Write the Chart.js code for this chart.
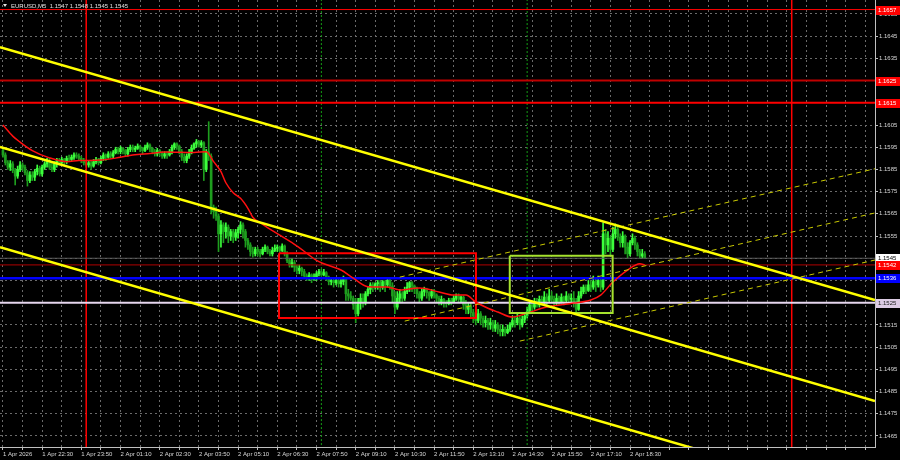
<!DOCTYPE html>
<html lang="en">
<head>
<meta charset="UTF-8">
<title>EURUSD M5</title>
<script src="https://cdn.jsdelivr.net/npm/chart.js@4"></script>
<style>
  html, body { margin: 0; padding: 0; background: #000; }
  #wrap { width: 900px; height: 460px; }
</style>
</head>
<body>
<div id="wrap"><canvas id="chart" width="900" height="460"></canvas></div>
<script>
// ---- data (bar index 0 = 1 Apr 21:10, 5 minute bars) ----
const symbolName = 'EURUSD,M5';

const opens = [
  1.15935,1.15915,1.15880,1.15860,1.15875,1.15845,1.15820,1.15850,1.15870,1.15860,
  1.15835,1.15800,1.15825,1.15815,1.15840,1.15855,1.15830,1.15860,1.15875,1.15890,
  1.15860,1.15850,1.15875,1.15890,1.15880,1.15895,1.15885,1.15900,1.15895,1.15905,
  1.15915,1.15910,1.15900,1.15890,1.15880,1.15870,1.15880,1.15865,1.15885,1.15895,
  1.15880,1.15900,1.15915,1.15905,1.15920,1.15910,1.15925,1.15940,1.15930,1.15945,
  1.15935,1.15920,1.15940,1.15950,1.15940,1.15945,1.15955,1.15945,1.15935,1.15950,
  1.15960,1.15945,1.15930,1.15920,1.15935,1.15925,1.15910,1.15920,1.15915,1.15930,
  1.15950,1.15965,1.15955,1.15930,1.15905,1.15890,1.15910,1.15925,1.15945,1.15965,
  1.15975,1.15960,1.15970,1.15850,1.15930,1.15910,1.15680,1.15660,1.15640,1.15560,
  1.15600,1.15570,1.15590,1.15550,1.15570,1.15545,1.15565,1.15580,1.15600,1.15570,
  1.15530,1.15510,1.15480,1.15470,1.15490,1.15480,1.15470,1.15490,1.15500,1.15480,
  1.15470,1.15485,1.15495,1.15500,1.15485,1.15505,1.15470,1.15440,1.15420,1.15430,
  1.15410,1.15395,1.15405,1.15390,1.15370,1.15360,1.15375,1.15355,1.15365,1.15380,
  1.15390,1.15375,1.15385,1.15365,1.15345,1.15350,1.15340,1.15350,1.15335,1.15345,
  1.15355,1.15290,1.15280,1.15270,1.15240,1.15200,1.15250,1.15270,1.15250,1.15290,
  1.15310,1.15330,1.15320,1.15335,1.15340,1.15320,1.15345,1.15330,1.15350,1.15325,
  1.15280,1.15230,1.15270,1.15290,1.15270,1.15300,1.15320,1.15340,1.15325,1.15315,
  1.15290,1.15270,1.15300,1.15310,1.15295,1.15280,1.15300,1.15285,1.15270,1.15255,
  1.15265,1.15250,1.15245,1.15260,1.15250,1.15270,1.15280,1.15265,1.15275,1.15240,
  1.15220,1.15235,1.15205,1.15190,1.15170,1.15200,1.15180,1.15160,1.15170,1.15150,
  1.15160,1.15135,1.15150,1.15130,1.15120,1.15130,1.15115,1.15130,1.15150,1.15170,
  1.15160,1.15180,1.15150,1.15175,1.15190,1.15210,1.15240,1.15230,1.15255,1.15240,
  1.15265,1.15250,1.15275,1.15260,1.15280,1.15265,1.15250,1.15270,1.15255,1.15275,
  1.15260,1.15280,1.15265,1.15270,1.15250,1.15220,1.15280,1.15300,1.15320,1.15305,
  1.15330,1.15320,1.15345,1.15330,1.15350,1.15320,1.15560,1.15510,1.15540,1.15490,
  1.15560,1.15580,1.15545,1.15520,1.15550,1.15500,1.15470,1.15520,1.15540,1.15510,
  1.15480,1.15460,1.15470
];
const highs = [
  1.15950,1.15925,1.15890,1.15890,1.15885,1.15855,1.15865,1.15885,1.15880,1.15870,
  1.15845,1.15840,1.15840,1.15850,1.15870,1.15865,1.15870,1.15885,1.15900,1.15900,
  1.15880,1.15885,1.15900,1.15900,1.15905,1.15900,1.15910,1.15915,1.15915,1.15925,
  1.15925,1.15920,1.15910,1.15900,1.15890,1.15890,1.15890,1.15895,1.15905,1.15900,
  1.15910,1.15925,1.15920,1.15930,1.15930,1.15935,1.15950,1.15950,1.15955,1.15950,
  1.15940,1.15950,1.15960,1.15960,1.15955,1.15965,1.15960,1.15950,1.15960,1.15970,
  1.15965,1.15950,1.15940,1.15945,1.15940,1.15930,1.15930,1.15930,1.15940,1.15960,
  1.15970,1.15970,1.15960,1.15940,1.15920,1.15920,1.15940,1.15960,1.15970,1.15985,
  1.15980,1.15980,1.15975,1.15940,1.16065,1.15920,1.15690,1.15680,1.15650,1.15620,
  1.15610,1.15610,1.15600,1.15580,1.15580,1.15580,1.15590,1.15615,1.15610,1.15580,
  1.15540,1.15520,1.15500,1.15500,1.15500,1.15490,1.15500,1.15510,1.15505,1.15490,
  1.15500,1.15510,1.15510,1.15505,1.15515,1.15510,1.15480,1.15450,1.15450,1.15440,
  1.15420,1.15420,1.15410,1.15400,1.15380,1.15385,1.15380,1.15380,1.15390,1.15400,
  1.15400,1.15400,1.15390,1.15370,1.15360,1.15360,1.15360,1.15360,1.15360,1.15370,
  1.15360,1.15310,1.15300,1.15280,1.15270,1.15270,1.15290,1.15290,1.15300,1.15320,
  1.15340,1.15340,1.15340,1.15350,1.15350,1.15350,1.15350,1.15360,1.15360,1.15340,
  1.15300,1.15300,1.15310,1.15300,1.15320,1.15340,1.15345,1.15345,1.15330,1.15320,
  1.15300,1.15310,1.15320,1.15315,1.15300,1.15310,1.15310,1.15290,1.15280,1.15280,
  1.15270,1.15260,1.15270,1.15270,1.15280,1.15290,1.15290,1.15280,1.15280,1.15260,
  1.15250,1.15250,1.15220,1.15210,1.15220,1.15210,1.15190,1.15190,1.15180,1.15180,
  1.15170,1.15170,1.15160,1.15150,1.15150,1.15140,1.15150,1.15160,1.15190,1.15190,
  1.15200,1.15190,1.15190,1.15200,1.15230,1.15250,1.15260,1.15270,1.15270,1.15280,
  1.15280,1.15300,1.15290,1.15310,1.15300,1.15280,1.15290,1.15280,1.15290,1.15280,
  1.15300,1.15290,1.15290,1.15300,1.15270,1.15300,1.15320,1.15330,1.15330,1.15350,
  1.15350,1.15370,1.15360,1.15370,1.15360,1.15610,1.15580,1.15570,1.15550,1.15590,
  1.15605,1.15600,1.15560,1.15570,1.15555,1.15520,1.15530,1.15560,1.15550,1.15520,
  1.15490,1.15490,1.15480
];
const lows = [
  1.15905,1.15870,1.15850,1.15845,1.15835,1.15780,1.15810,1.15840,1.15845,1.15825,
  1.15775,1.15790,1.15800,1.15800,1.15825,1.15820,1.15820,1.15850,1.15860,1.15850,
  1.15840,1.15840,1.15860,1.15870,1.15870,1.15870,1.15875,1.15885,1.15890,1.15895,
  1.15900,1.15890,1.15880,1.15870,1.15860,1.15860,1.15850,1.15860,1.15875,1.15870,
  1.15875,1.15890,1.15890,1.15900,1.15900,1.15900,1.15920,1.15920,1.15920,1.15920,
  1.15910,1.15910,1.15930,1.15930,1.15930,1.15940,1.15930,1.15920,1.15930,1.15940,
  1.15930,1.15920,1.15910,1.15910,1.15910,1.15900,1.15900,1.15900,1.15910,1.15920,
  1.15940,1.15940,1.15920,1.15890,1.15880,1.15880,1.15900,1.15920,1.15940,1.15950,
  1.15950,1.15950,1.15800,1.15840,1.15890,1.15650,1.15630,1.15620,1.15480,1.15500,
  1.15520,1.15540,1.15520,1.15530,1.15520,1.15530,1.15540,1.15560,1.15540,1.15500,
  1.15490,1.15460,1.15455,1.15460,1.15460,1.15455,1.15465,1.15480,1.15470,1.15460,
  1.15460,1.15480,1.15480,1.15470,1.15480,1.15460,1.15430,1.15410,1.15410,1.15390,
  1.15380,1.15380,1.15370,1.15360,1.15350,1.15350,1.15340,1.15350,1.15350,1.15370,
  1.15370,1.15370,1.15350,1.15330,1.15330,1.15320,1.15330,1.15320,1.15320,1.15330,
  1.15260,1.15260,1.15260,1.15220,1.15160,1.15190,1.15220,1.15230,1.15240,1.15280,
  1.15290,1.15300,1.15310,1.15310,1.15300,1.15310,1.15300,1.15320,1.15310,1.15250,
  1.15200,1.15220,1.15250,1.15250,1.15260,1.15290,1.15300,1.15300,1.15290,1.15270,
  1.15250,1.15260,1.15280,1.15270,1.15260,1.15270,1.15270,1.15250,1.15240,1.15240,
  1.15230,1.15230,1.15240,1.15240,1.15250,1.15260,1.15250,1.15250,1.15220,1.15200,
  1.15200,1.15180,1.15160,1.15150,1.15160,1.15150,1.15140,1.15140,1.15130,1.15130,
  1.15120,1.15120,1.15110,1.15100,1.15100,1.15100,1.15110,1.15120,1.15140,1.15140,
  1.15150,1.15130,1.15140,1.15160,1.15180,1.15200,1.15210,1.15220,1.15230,1.15230,
  1.15240,1.15240,1.15240,1.15250,1.15250,1.15230,1.15240,1.15240,1.15250,1.15240,
  1.15250,1.15250,1.15250,1.15230,1.15205,1.15215,1.15270,1.15290,1.15290,1.15300,
  1.15300,1.15310,1.15300,1.15320,1.15300,1.15310,1.15470,1.15480,1.15460,1.15480,
  1.15540,1.15530,1.15500,1.15500,1.15470,1.15450,1.15460,1.15510,1.15490,1.15460,
  1.15450,1.15450,1.15450
];
const closes = [
  1.15915,1.15880,1.15860,1.15875,1.15845,1.15820,1.15850,1.15870,1.15860,1.15835,
  1.15800,1.15825,1.15815,1.15840,1.15855,1.15830,1.15860,1.15875,1.15890,1.15860,
  1.15850,1.15875,1.15890,1.15880,1.15895,1.15885,1.15900,1.15895,1.15905,1.15915,
  1.15910,1.15900,1.15890,1.15880,1.15870,1.15880,1.15865,1.15885,1.15895,1.15880,
  1.15900,1.15915,1.15905,1.15920,1.15910,1.15925,1.15940,1.15930,1.15945,1.15935,
  1.15920,1.15940,1.15950,1.15940,1.15945,1.15955,1.15945,1.15935,1.15950,1.15960,
  1.15945,1.15930,1.15920,1.15935,1.15925,1.15910,1.15920,1.15915,1.15930,1.15950,
  1.15965,1.15955,1.15930,1.15905,1.15890,1.15910,1.15925,1.15945,1.15965,1.15975,
  1.15960,1.15970,1.15850,1.15930,1.15910,1.15680,1.15660,1.15640,1.15560,1.15600,
  1.15570,1.15590,1.15550,1.15570,1.15545,1.15565,1.15580,1.15600,1.15570,1.15530,
  1.15510,1.15480,1.15470,1.15490,1.15480,1.15470,1.15490,1.15500,1.15480,1.15470,
  1.15485,1.15495,1.15500,1.15485,1.15505,1.15470,1.15440,1.15420,1.15430,1.15410,
  1.15395,1.15405,1.15390,1.15370,1.15360,1.15375,1.15355,1.15365,1.15380,1.15390,
  1.15375,1.15385,1.15365,1.15345,1.15350,1.15340,1.15350,1.15335,1.15345,1.15355,
  1.15290,1.15280,1.15270,1.15240,1.15200,1.15250,1.15270,1.15250,1.15290,1.15310,
  1.15330,1.15320,1.15335,1.15340,1.15320,1.15345,1.15330,1.15350,1.15325,1.15280,
  1.15230,1.15270,1.15290,1.15270,1.15300,1.15320,1.15340,1.15325,1.15315,1.15290,
  1.15270,1.15300,1.15310,1.15295,1.15280,1.15300,1.15285,1.15270,1.15255,1.15265,
  1.15250,1.15245,1.15260,1.15250,1.15270,1.15280,1.15265,1.15275,1.15240,1.15220,
  1.15235,1.15205,1.15190,1.15170,1.15200,1.15180,1.15160,1.15170,1.15150,1.15160,
  1.15135,1.15150,1.15130,1.15120,1.15130,1.15115,1.15130,1.15150,1.15170,1.15160,
  1.15180,1.15150,1.15175,1.15190,1.15210,1.15240,1.15230,1.15255,1.15240,1.15265,
  1.15250,1.15275,1.15260,1.15280,1.15265,1.15250,1.15270,1.15255,1.15275,1.15260,
  1.15280,1.15265,1.15270,1.15250,1.15220,1.15280,1.15300,1.15320,1.15305,1.15330,
  1.15320,1.15345,1.15330,1.15350,1.15320,1.15560,1.15510,1.15540,1.15490,1.15560,
  1.15580,1.15545,1.15520,1.15550,1.15500,1.15470,1.15520,1.15540,1.15510,1.15480,
  1.15460,1.15470,1.15450
];

// moving average (red curve), read at selected bars
const maBars =   [0, 4, 7, 12, 19, 26, 31, 40, 48, 53, 60, 66, 78, 83, 86, 89, 91, 94, 97, 100,
                  102, 105, 108, 113, 118, 124, 128, 131, 138, 143, 149, 157, 162, 170, 178, 184,
                  189, 193, 198, 202, 208, 214, 222, 233, 240, 244, 249, 255, 260, 262];
const maValues = [1.16050, 1.16000, 1.15973, 1.15935, 1.15902, 1.15885, 1.15890, 1.15892, 1.15905, 1.15915,
                  1.15922, 1.15928, 1.15926, 1.15930, 1.15885, 1.15840, 1.15790, 1.15745, 1.15720, 1.15675,
                  1.15635, 1.15610, 1.15588, 1.15554, 1.15520, 1.15473, 1.15440, 1.15425, 1.15397, 1.15361,
                  1.15322, 1.15320, 1.15307, 1.15316, 1.15298, 1.15284, 1.15284, 1.15253, 1.15225, 1.15208,
                  1.15185, 1.15203, 1.15230, 1.15248, 1.15262, 1.15284, 1.15343, 1.15397, 1.15425, 1.15420];

// x-axis labels every 16 bars, price grid levels
const timeLabels = ['1 Apr 2026', '1 Apr 22:30', '1 Apr 23:50', '2 Apr 01:10', '2 Apr 02:30', '2 Apr 03:50',
                    '2 Apr 05:10', '2 Apr 06:30', '2 Apr 07:50', '2 Apr 09:10', '2 Apr 10:30', '2 Apr 11:50',
                    '2 Apr 13:10', '2 Apr 14:30', '2 Apr 15:50', '2 Apr 17:10', '2 Apr 18:30'];
const barsPerLabel = 16;
const priceTicks = [1.1465, 1.1475, 1.1485, 1.1495, 1.1505, 1.1515, 1.1525, 1.1535, 1.1545, 1.1555,
                    1.1565, 1.1575, 1.1585, 1.1595, 1.1605, 1.1615, 1.1625, 1.1635, 1.1645, 1.1655];

// horizontal levels (price) and day / session markers (bar index)
const levelPrices = [1.1657, 1.1625, 1.1615, 1.1545, 1.1542, 1.1536, 1.1525];
const daySeparators = [34, 322];
const sessionMarks = [130, 214];

// channel lines [startBar, startPrice, endBar, endPrice]
const downChannel = [
  [-1.2, 1.16401, 356, 1.15262],
  [-1.2, 1.15951, 356, 1.14807],
  [-1.2, 1.15500, 356, 1.14357]
];
const upChannel = [
  [162, 1.15365, 356, 1.15853],
  [164, 1.15167, 356, 1.15654],
  [211, 1.15077, 356, 1.15442]
];
// boxes [fromBar, toBar, topPrice, bottomPrice]
const redBox = [112.7, 193.1, 1.15473, 1.15181];
const greenBox = [206.9, 248.9, 1.15461, 1.15204];

// ---- styles ----
const FONT = '"Liberation Sans", Arial, sans-serif';
const levelStyles = [
  { line: '#ff0000', width: 1,   box: '#ff0000', text: '#ffffff' },
  { line: '#c00000', width: 2,   box: '#ff0000', text: '#ffffff' },
  { line: '#ff0000', width: 2,   box: '#ff0000', text: '#ffffff' },
  { line: '#5a5a5a', width: 1,   box: '#ffffff', text: '#000000' },
  { line: '#b00000', width: 1,   box: '#ff0000', text: '#ffffff' },
  { line: '#0000ff', width: 2.5, box: '#0000ff', text: '#ffffff' },
  { line: '#e6d6ee', width: 2,   box: '#dccbe4', text: '#202020' }
];
const BULL = '#3cff3c', BEAR = '#1e9e1e';
const X_MIN = -1.2, X_MAX = 356, Y_MIN = 1.14600, Y_MAX = 1.16613;

function line(points, color, width, dash, order) {
  return {
    type: 'line', data: points, borderColor: color, borderWidth: width,
    borderDash: dash || [], pointRadius: 0, fill: false, tension: 0, order: order, clip: 0
  };
}

const datasets = [];

downChannel.forEach(s => datasets.push(line([{x: s[0], y: s[1]}, {x: s[2], y: s[3]}], '#ffff00', 2.5, null, 1)));
upChannel.forEach(s => datasets.push(line([{x: s[0], y: s[1]}, {x: s[2], y: s[3]}], '#c8c800', 1, [5, 4], 1)));

[[redBox, '#ff0000'], [greenBox, '#a6e22e']].forEach(([b, c]) => {
  datasets.push(line([
    {x: b[0], y: b[2]}, {x: b[1], y: b[2]}, {x: b[1], y: b[3]}, {x: b[0], y: b[3]}, {x: b[0], y: b[2]}
  ], c, 2, null, 1));
});

datasets.push({
  type: 'line', data: maBars.map((b, i) => ({x: b, y: maValues[i]})),
  borderColor: '#ff1010', borderWidth: 1.5, pointRadius: 0, fill: false,
  cubicInterpolationMode: 'monotone', order: 2, clip: 0
});

levelPrices.forEach((p, i) => {
  const st = levelStyles[i];
  datasets.push(line([{x: X_MIN - 1, y: p}, {x: X_MAX + 1, y: p}], st.line, st.width, null, 3));
});

daySeparators.forEach(b => datasets.push(line([{x: b, y: Y_MIN - 0.01}, {x: b, y: Y_MAX + 0.01}], '#ff0000', 1.5, null, 4)));
sessionMarks.forEach(b => datasets.push(line([{x: b, y: Y_MIN - 0.01}, {x: b, y: Y_MAX + 0.01}], '#14a014', 1, [2, 2], 4)));

const candleColors = opens.map((o, i) => closes[i] >= o ? BULL : BEAR);
datasets.push({
  type: 'bar', data: opens.map((o, i) => ({x: i, y: [o, closes[i]]})),
  backgroundColor: candleColors, borderWidth: 0, barThickness: 2, minBarLength: 1,
  grouped: false, order: 5
});
datasets.push({
  type: 'bar', data: opens.map((o, i) => ({x: i, y: [lows[i], highs[i]]})),
  backgroundColor: candleColors, borderWidth: 0, barThickness: 1,
  grouped: false, order: 6
});

const gridBars = [];
for (let b = 0; b <= X_MAX; b += barsPerLabel / 2) gridBars.push(b);

const overlay = {
  id: 'overlay',
  afterDraw(chart) {
    const {ctx, chartArea: area, scales: {y}} = chart;
    ctx.save();
    ctx.font = '6px ' + FONT;
    ctx.textBaseline = 'middle';
    ctx.textAlign = 'left';
    levelPrices.forEach((p, i) => {
      const st = levelStyles[i];
      const yp = Math.round(y.getPixelForValue(p));
      ctx.fillStyle = st.box;
      ctx.fillRect(area.right + 1, yp - 4, 24, 9);
      ctx.fillStyle = st.text;
      ctx.fillText(p.toFixed(4), area.right + 3, yp + 0.5);
    });
    // title
    const last = opens.length - 1;
    ctx.fillStyle = '#e0e0e0';
    ctx.beginPath();
    ctx.moveTo(3, 4); ctx.lineTo(7, 4); ctx.lineTo(5, 7); ctx.closePath(); ctx.fill();
    ctx.font = '6px ' + FONT;
    ctx.fillText(symbolName + '  ' + [opens[last], highs[last], lows[last], closes[last]].map(v => v.toFixed(4)).join(' '), 11, 6);
    ctx.restore();
  }
};

new Chart(document.getElementById('chart'), {
  type: 'bar',
  data: { datasets },
  options: {
    responsive: false,
    animation: false,
    events: [],
    layout: { padding: 0 },
    plugins: { legend: { display: false }, tooltip: { enabled: false } },
    scales: {
      x: {
        type: 'linear', min: X_MIN, max: X_MAX, offset: false, bounds: 'data',
        afterBuildTicks: s => { s.ticks = gridBars.map(v => ({value: v})); },
        afterFit: s => { s.height = 13; s.paddingLeft = 0; s.paddingRight = 0; },
        ticks: {
          align: 'start', maxRotation: 0, autoSkip: false, padding: 1, color: '#d8d8d8',
          font: { family: FONT, size: 6 },
          callback: v => (v % barsPerLabel === 0 && timeLabels[v / barsPerLabel]) || ''
        },
        grid: { color: '#6a6a6a', offset: false, tickLength: 3, tickColor: '#c0c0c0' },
        border: { color: '#c0c0c0', width: 1, dash: [2, 3] }
      },
      y: {
        position: 'right', min: Y_MIN, max: Y_MAX, beginAtZero: false, bounds: 'data',
        afterBuildTicks: s => { s.ticks = priceTicks.map(v => ({value: v})); },
        afterFit: s => { s.width = 25; s.paddingTop = 0; s.paddingBottom = 0; },
        ticks: {
          padding: 1, color: '#d8d8d8', autoSkip: false,
          font: { family: FONT, size: 6 },
          callback: v => v.toFixed(4)
        },
        grid: { color: '#6a6a6a', tickLength: 3, tickColor: '#c0c0c0' },
        border: { color: '#c0c0c0', width: 1, dash: [2, 3] }
      }
    }
  },
  plugins: [overlay]
});
</script>
</body>
</html>
